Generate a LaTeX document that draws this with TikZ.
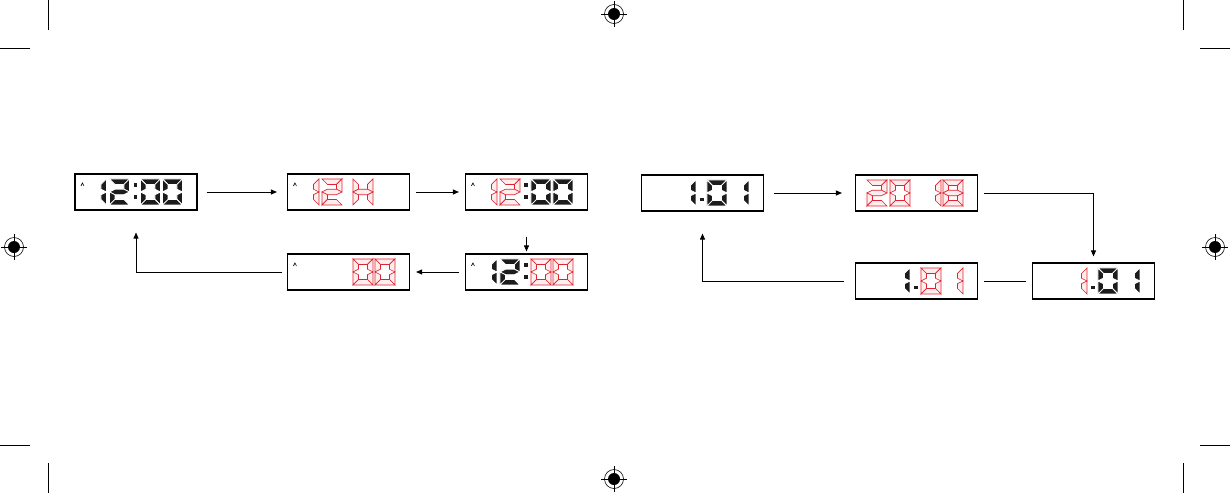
\documentclass[tikz,border=0pt]{standalone}
\usepackage{tikz}
\usetikzlibrary{calc, arrows.meta}
\definecolor{lcdred}{RGB}{225, 35, 45}
\definecolor{lcdblack}{RGB}{28, 28, 28}

% one digit cell, 20 wide and 26 high, y pointing down
\newcommand{\lcdsega}{(0,0) -- (20,0) -- (14.5,5.5) -- (5.5,5.5) -- cycle}
\newcommand{\lcdsegb}{(20,0) -- (20,13) -- (14.5,10.25) -- (14.5,5.5) -- cycle}
\newcommand{\lcdsegc}{(20,13) -- (20,26) -- (14.5,20.5) -- (14.5,15.75) -- cycle}
\newcommand{\lcdsegd}{(0,26) -- (20,26) -- (14.5,20.5) -- (5.5,20.5) -- cycle}
\newcommand{\lcdsege}{(0,13) -- (0,26) -- (5.5,20.5) -- (5.5,15.75) -- cycle}
\newcommand{\lcdsegf}{(0,0) -- (0,13) -- (5.5,10.25) -- (5.5,5.5) -- cycle}
\newcommand{\lcdsegg}{(0,13) -- (5.5,10.25) -- (14.5,10.25) -- (20,13) -- (14.5,15.75) -- (5.5,15.75) -- cycle}
\newcommand{\lcdpath}[2]{\path[#2] #1;}
\newcommand{\lcddigit}[4]{%
  \begin{scope}[shift={(#1.north west)}, shift={(#2,5.5)}]
    \foreach \s in {#3} {\expandafter\lcdpath\csname lcdseg\s\endcsname{#4}}
  \end{scope}}
\newcommand{\lcddot}[4]{\path[#4] ($(#1.north west)+(#2,#3)$) rectangle ++(4.5,4.5);}
\newcommand{\lcdcaret}[1]{\draw[line width=0.6pt] ($(#1.north west)+(6.5,12.5)$) -- ++(1.5,-3) -- ++(1.5,3);}
\newcommand{\regmark}[1]{%
  \begin{scope}[shift={(#1)}]
    \draw[line width=0.6pt] (0,0) circle (9.5);
    \fill (0,0) circle (6);
    \draw[line width=0.6pt] (-13,0) -- (13,0) (0,-13) -- (0,13);
  \end{scope}}

\tikzset{
  lcd/.style={draw, line width=1.1pt, minimum width=122pt, minimum height=36pt, inner sep=0pt},
  segon/.style={fill=lcdblack, draw=white, line width=0.8pt},
  segred/.style={fill=lcdred!8, draw=lcdred, line width=0.6pt},
  arr/.style={line width=0.9pt, -{Triangle[length=6pt,width=5pt]}},
  crop/.style={line width=1pt}
}

\begin{document}
\begin{tikzpicture}[x=1pt, y=-1pt]
  \useasboundingbox (0,0) rectangle (1230,493);
  % crop and registration marks
  \draw[crop] (48,0) -- (48,30) (0,48) -- (30,48);
  \draw[crop] (1183,0) -- (1183,30) (1200,48) -- (1230,48);
  \draw[crop] (48,463) -- (48,493) (0,445) -- (30,445);
  \draw[crop] (1183,463) -- (1183,493) (1200,445) -- (1230,445);
  \foreach \p in {{614,14},{614,479},{14,247},{1215,247}} {\regmark{\p}}

  % time setting
  \node[lcd] (A) at (136,192) {};
  \node[lcd] (B) at (348.5,192) {};
  \node[lcd] (C) at (526.5,192) {};
  \node[lcd] (D) at (526.5,272) {};
  \node[lcd] (E) at (348.5,272) {};
  \foreach \b in {A,B,C,D,E} {\lcdcaret{\b}}

  \lcddigit{A}{12}{b,c}{segon}
  \lcddigit{A}{35}{a,b,g,e,d}{segon}
  \lcddot{A}{58.5}{9}{segon} \lcddot{A}{58.5}{21}{segon}
  \lcddigit{A}{66}{a,b,c,d,e,f}{segon}
  \lcddigit{A}{88}{a,b,c,d,e,f}{segon}

  \lcddigit{B}{12}{b,c}{segred}
  \lcddigit{B}{35}{a,b,g,e,d}{segred}
  \lcddigit{B}{66}{b,c,e,f,g}{segred}

  \lcddigit{C}{12}{b,c}{segred}
  \lcddigit{C}{35}{a,b,g,e,d}{segred}
  \lcddot{C}{58.5}{9}{segon} \lcddot{C}{58.5}{21}{segon}
  \lcddigit{C}{66}{a,b,c,d,e,f}{segon}
  \lcddigit{C}{88}{a,b,c,d,e,f}{segon}

  \lcddigit{D}{12}{b,c}{segon}
  \lcddigit{D}{35}{a,b,g,e,d}{segon}
  \lcddot{D}{58.5}{9}{segon} \lcddot{D}{58.5}{21}{segon}
  \lcddigit{D}{66}{a,b,c,d,e,f}{segred}
  \lcddigit{D}{88}{a,b,c,d,e,f}{segred}

  \lcddigit{E}{66}{a,b,c,d,e,f}{segred}
  \lcddigit{E}{88}{a,b,c,d,e,f}{segred}

  \draw[arr, shorten <=9pt, shorten >=10pt] (A) -- (B);
  \draw[arr, shorten <=6pt, shorten >=6pt] (B) -- (C);
  \draw[arr, shorten <=26pt, shorten >=2pt] (C) -- (D);
  \draw[arr, shorten <=6pt, shorten >=6pt] (D) -- (E);
  \draw[arr, shorten <=5pt, shorten >=22pt] (E.west) -| (A.south);

  % date setting
  \node[lcd] (F) at (702.5,193) {};
  \node[lcd] (G) at (916.5,193) {};
  \node[lcd] (H) at (1093.5,281) {};
  \node[lcd] (I) at (916.5,281) {};

  \lcddigit{F}{35}{b,c}{segon}
  \lcddot{F}{58.5}{22.5}{segon}
  \lcddigit{F}{66}{a,b,c,d,e,f}{segon}
  \lcddigit{F}{88}{b,c}{segon}

  \lcddigit{G}{12}{a,b,g,e,d}{segred}
  \lcddigit{G}{35}{a,b,c,d,e,f}{segred}
  \lcddigit{G}{66}{b,c}{segred}
  \lcddigit{G}{88}{a,b,c,d,e,f,g}{segred}

  \lcddigit{H}{35}{b,c}{segred}
  \lcddot{H}{58.5}{22.5}{segon}
  \lcddigit{H}{66}{a,b,c,d,e,f}{segon}
  \lcddigit{H}{88}{b,c}{segon}

  \lcddigit{I}{35}{b,c}{segon}
  \lcddot{I}{58.5}{22.5}{segon}
  \lcddigit{I}{66}{a,b,c,d,e,f}{segred}
  \lcddigit{I}{88}{b,c}{segred}

  \draw[arr, shorten <=10pt, shorten >=13pt] (F) -- (G);
  \draw[arr, shorten <=6pt, shorten >=6pt] (G.east) -| (H.north);
  \draw[line width=0.9pt, shorten <=6pt, shorten >=6pt] (H) -- (I);
  \draw[arr, shorten <=11pt, shorten >=22pt] (I.west) -| (F.south);
\end{tikzpicture}
\end{document}
